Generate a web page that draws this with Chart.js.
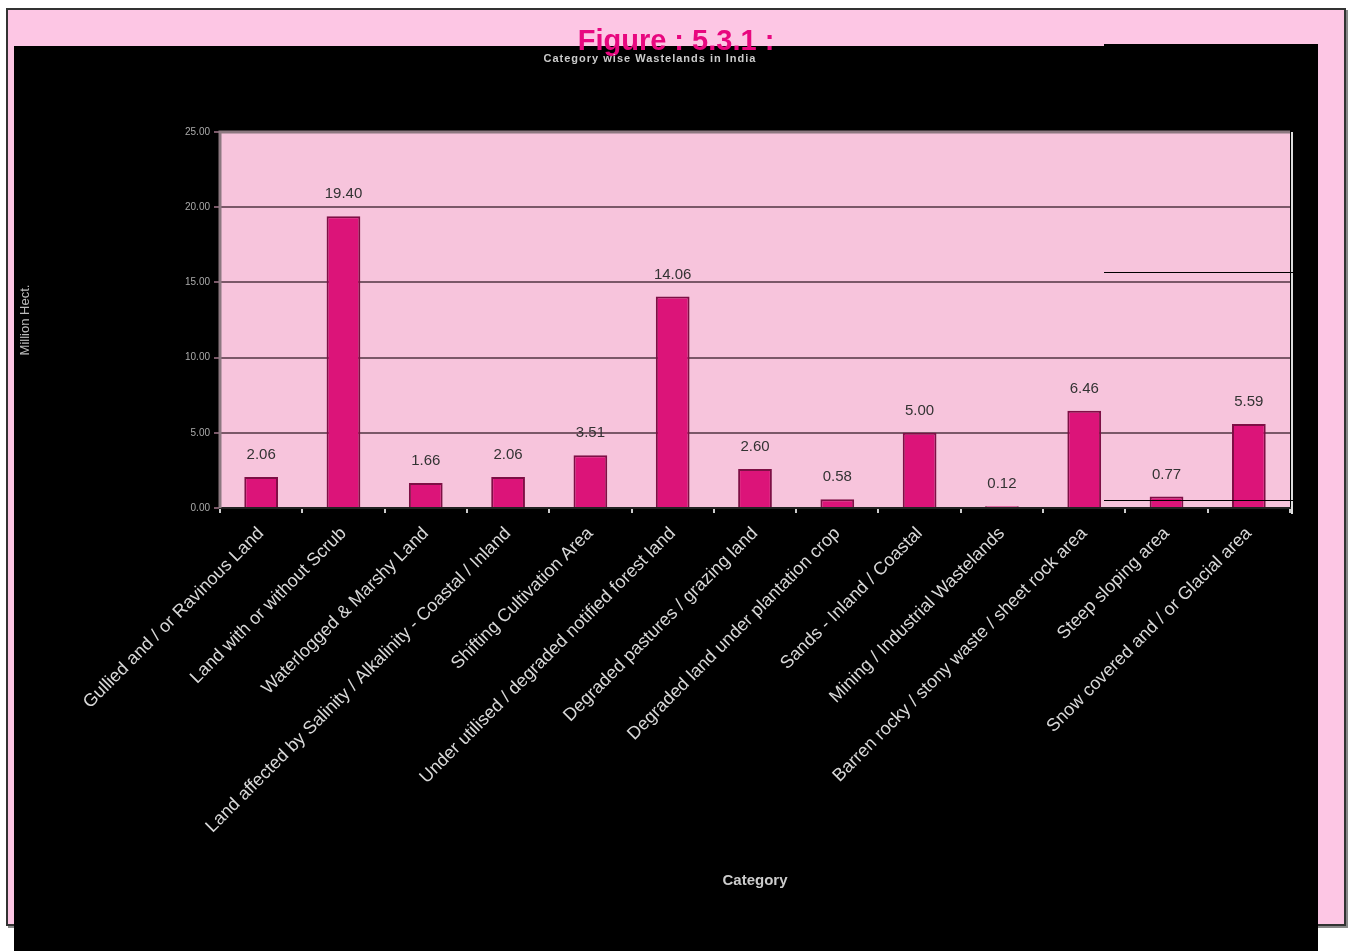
<!DOCTYPE html>
<html>
<head>
<meta charset="utf-8">
<script src="https://cdn.jsdelivr.net/npm/chart.js@4/dist/chart.umd.min.js"></script>
<style>
  html, body { margin: 0; padding: 0; background: #fff; }
  body { width: 1348px; height: 951px; position: relative; overflow: hidden; font-family: "Liberation Sans", Arial, sans-serif; }
  #frame {
    position: absolute; left: 6px; top: 8px; width: 1336px; height: 914px;
    background: #fdc6e4; border: 2px solid #333; box-shadow: 2px 2px 0 #888;
  }
  #box { position: absolute; left: 14px; top: 46px; width: 1304px; height: 905px; background: #000; }
  #boxTop { position: absolute; left: 1104px; top: 44px; width: 214px; height: 4px; background: #000; }
  #fig { position: absolute; left: 0; width: 1348px; top: 24px; text-align: center; color: #e8077f; font-weight: bold; font-size: 29px; z-index: 3; text-indent: 4px; }
  #sub { position: absolute; left: 0; width: 1300px; top: 52px; text-align: center; color: #ccc; font-size: 11px; font-weight: bold; z-index: 3; letter-spacing: 1px; }
  .mark { position: absolute; background: #000; height: 1px; z-index: 3; }
</style>
</head>
<body>
<div id="frame"></div>
<div id="box"><canvas id="chart" width="1304" height="905"></canvas></div>
<div id="boxTop"></div>
<div id="fig">Figure : 5.3.1 :</div>
<div id="sub">Category wise Wastelands in India</div>
<div class="mark" style="left:1104px;top:272px;width:192px"></div>
<div class="mark" style="left:1104px;top:500px;width:192px"></div>
<script>
// wasteland categories
const categories = [
    'Gullied and / or Ravinous Land',
    'Land with or without Scrub',
    'Waterlogged & Marshy Land',
    'Land affected by Salinity / Alkalinity - Coastal / Inland',
    'Shifting Cultivation Area',
    'Under utilised / degraded notified forest land',
    'Degraded pastures / grazing land',
    'Degraded land under plantation crop',
    'Sands - Inland / Coastal',
    'Mining / Industrial Wastelands',
    'Barren rocky / stony waste / sheet rock area',
    'Steep sloping area',
    'Snow covered and / or Glacial area'
];
const areaValues = [2.06, 19.40, 1.66, 2.06, 3.51, 14.06, 2.60, 0.58, 5.00, 0.12, 6.46, 0.77, 5.59];
const yTicks = [0, 5, 10, 15, 20, 25];

// 描画エリアの背景（ピンク）
const plotBg = {
    id: 'plotBg',
    beforeDraw(chart) {
        const { ctx, chartArea: a } = chart;
        ctx.save();
        ctx.fillStyle = '#f7c4dc';
        ctx.fillRect(a.left, a.top, a.right - a.left, a.bottom - a.top);
        ctx.restore();
    },
    afterDraw(chart) {
        const { ctx, chartArea: a } = chart;
        ctx.save();
        ctx.strokeStyle = '#8c7880';
        ctx.lineWidth = 3;
        ctx.beginPath();
        ctx.moveTo(a.left, a.bottom);
        ctx.lineTo(a.left, a.top);
        ctx.lineTo(a.right, a.top);
        ctx.stroke();
        ctx.strokeStyle = '#ddd';
        ctx.lineWidth = 2;
        ctx.beginPath();
        ctx.moveTo(a.right + 2, a.top);
        ctx.lineTo(a.right + 2, a.bottom + 6);
        ctx.stroke();
        ctx.restore();
    }
};

// 棒の上の数値
const valueLabels = {
    id: 'valueLabels',
    afterDatasetsDraw(chart) {
        const { ctx } = chart;
        const meta = chart.getDatasetMeta(0);
        ctx.save();
        ctx.fillStyle = '#333';
        ctx.font = '15px "Liberation Sans", Arial, sans-serif';
        ctx.textAlign = 'center';
        ctx.textBaseline = 'middle';
        meta.data.forEach((bar, i) => {
            ctx.fillText(areaValues[i].toFixed(2), bar.x, bar.y - 22);
        });
        ctx.restore();
    }
};

new Chart(document.getElementById('chart'), {
    type: 'bar',
    data: {
        labels: categories,
        datasets: [{
            data: areaValues,
            backgroundColor: '#dc1479',
            borderColor: '#7e0f45',
            borderWidth: 2,
            borderSkipped: 'bottom',
            barPercentage: 0.41,
            categoryPercentage: 1
        }]
    },
    options: {
        responsive: false,
        animation: false,
        layout: { padding: { top: 86, left: 0, right: 28, bottom: 0 } },
        plugins: { legend: { display: false }, tooltip: { enabled: false } },
        scales: {
            x: {
                afterFit: (s) => { s.height = 443; },
                grid: { drawOnChartArea: false, color: '#ccc', tickLength: 5, lineWidth: 2 },
                border: { color: '#222', width: 2 },
                ticks: {
                    color: '#d8d8d8',
                    font: { size: 18, family: '"Liberation Sans", Arial, sans-serif' },
                    minRotation: 45,
                    maxRotation: 45,
                    autoSkip: false,
                    padding: 10
                },
                title: {
                    display: true,
                    text: 'Category',
                    color: '#ccc',
                    font: { size: 15, weight: 'bold' },
                    padding: { top: 0, bottom: 61 }
                }
            },
            y: {
                min: 0,
                max: 25,
                afterFit: (s) => { s.width = 206; },
                afterBuildTicks: (s) => { s.ticks = yTicks.map(v => ({ value: v })); },
                grid: { color: '#7a5868', lineWidth: 2, tickLength: 6, drawTicks: true },
                border: { display: false },
                ticks: {
                    color: '#aaa',
                    font: { size: 10 },
                    padding: 4,
                    callback: (v) => Number(v).toFixed(2)
                },
                title: {
                    display: true,
                    text: 'Million Hect.',
                    color: '#bbb',
                    font: { size: 13 },
                    padding: { top: 4, bottom: 0 }
                }
            }
        }
    },
    plugins: [plotBg, valueLabels]
});
</script>
</body>
</html>
